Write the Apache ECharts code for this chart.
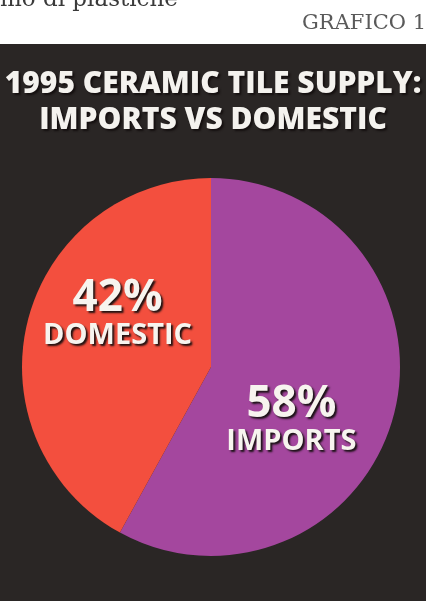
<!DOCTYPE html>
<html><head><meta charset="utf-8">
<script src="https://cdn.jsdelivr.net/npm/echarts@6/dist/echarts.min.js"></script>
<style>html,body{margin:0;padding:0;background:#fff}#c{width:426px;height:601px}</style>
</head><body><div id="c"></div>
<script>
var categories = ['IMPORTS', 'DOMESTIC'];
var values = [58, 42];
var colors = ['#a4479e', '#f34f3e'];
var titleLines = ['1995 CERAMIC TILE SUPPLY:', 'IMPORTS VS DOMESTIC'];
var headerText = 'mo di plastiche';
var figureLabel = 'GRAFICO 1';

var chart = echarts.init(document.getElementById('c'), null, {renderer: 'canvas'});
var shadow = {textShadowColor: 'rgba(20,15,15,0.95)', textShadowBlur: 2, textShadowOffsetX: 2, textShadowOffsetY: 2};
chart.setOption({
  backgroundColor: '#ffffff',
  graphic: [
    {type: 'rect', shape: {x: 0, y: 44, width: 426, height: 557}, style: {fill: '#2a2625'}, z: -10},
    {type: 'text', left: 0, top: -11, style: {text: headerText, font: '23px "DejaVu Serif"', fill: '#3a3a3a'}},
    {type: 'text', right: 0, top: 13, style: {text: figureLabel, font: '21px "DejaVu Serif"', fill: '#5a5a5a'}}
  ],
  title: {
    text: titleLines.join('\n'),
    left: 'center', top: 61,
    textStyle: Object.assign({color: '#f4f2ee', fontFamily: 'Open Sans', fontWeight: 800, fontSize: 30, lineHeight: 36}, shadow)
  },
  series: [{
    type: 'pie',
    center: [211, 367],
    radius: [0, 189],
    startAngle: 90,
    clockwise: true,
    animation: false,
    silent: true,
    itemStyle: {borderWidth: 0},
    data: categories.map(function (c, i) { return {name: c, value: values[i], itemStyle: {color: colors[i]}}; }),
    label: {
      show: true, position: 'inside',
      formatter: '{p|{c}%}\n{n|{b}}',
      rich: {
        p: Object.assign({fontFamily: 'Open Sans', fontWeight: 'bold', fontSize: 44, color: '#f7f4ef', lineHeight: 44, align: 'center'}, shadow),
        n: Object.assign({fontFamily: 'Open Sans', fontWeight: 'bold', fontSize: 29, color: '#f7f4ef', lineHeight: 30, align: 'center'}, shadow)
      }
    },
    labelLine: {show: false},
    labelLayout: function (p) {
      return p.dataIndex === 0 ? {dx: -14, dy: 28} : {dx: 1, dy: -29};
    }
  }]
});
</script></body></html>
